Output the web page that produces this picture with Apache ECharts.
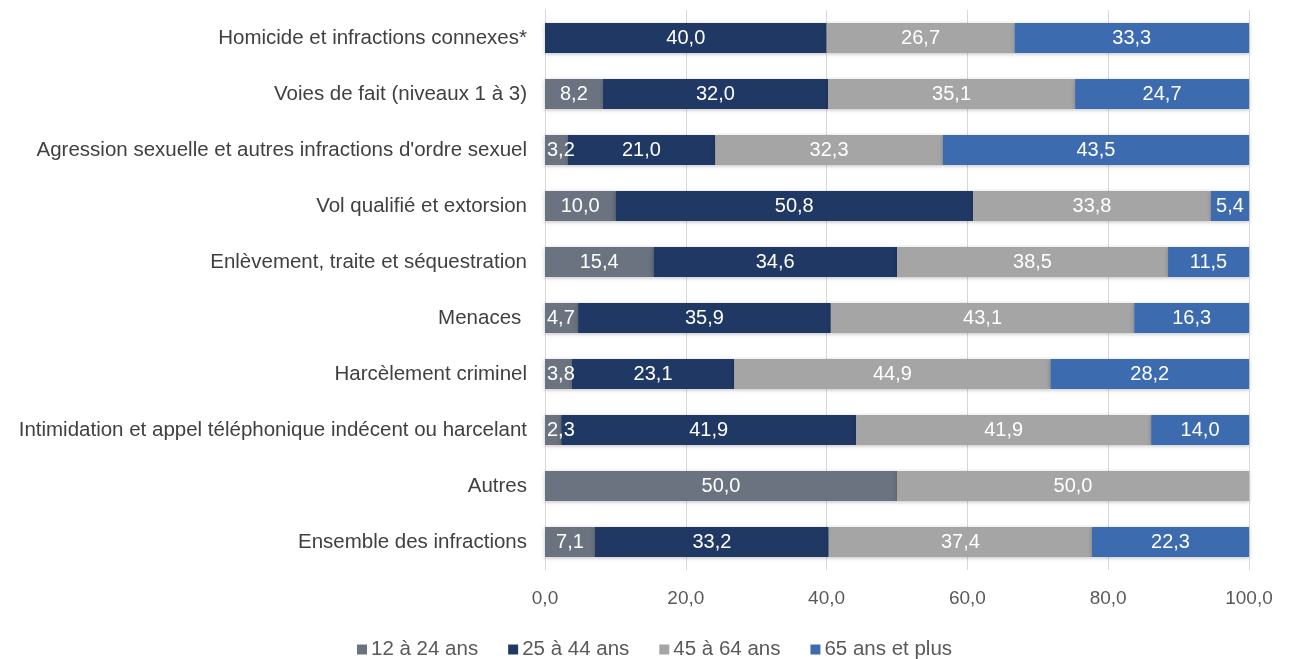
<!DOCTYPE html>
<html><head><meta charset="utf-8">
<script src="https://cdn.jsdelivr.net/npm/echarts@6/dist/echarts.min.js"></script>
<style>html,body{margin:0;padding:0;background:#fff}#c{width:1289px;height:659px}</style>
</head><body><div id="c"></div>
<script>
const categories = [
  "Homicide et infractions connexes*",
  "Voies de fait (niveaux 1 à 3)",
  "Agression sexuelle et autres infractions d'ordre sexuel",
  "Vol qualifié et extorsion",
  "Enlèvement, traite et séquestration",
  "Menaces ",
  "Harcèlement criminel",
  "Intimidation et appel téléphonique indécent ou harcelant",
  "Autres",
  "Ensemble des infractions"
];
const seriesNames = ["12 à 24 ans", "25 à 44 ans", "45 à 64 ans", "65 ans et plus"];
const age12_24 = [0, 8.2, 3.2, 10.0, 15.4, 4.7, 3.8, 2.3, 50.0, 7.1];
const age25_44 = [40.0, 32.0, 21.0, 50.8, 34.6, 35.9, 23.1, 41.9, 0, 33.2];
const age45_64 = [26.7, 35.1, 32.3, 33.8, 38.5, 43.1, 44.9, 41.9, 50.0, 37.4];
const age65plus = [33.3, 24.7, 43.5, 5.4, 11.5, 16.3, 28.2, 14.0, 0, 22.3];
const xTicks = [0, 20, 40, 60, 80, 100];
const colors = ["#6B7380", "#203864", "#A5A5A5", "#3D6BB0"];
const fmt = v => v.toFixed(1).replace('.', ',');
const allData = [age12_24, age25_44, age45_64, age65plus];

const chart = echarts.init(document.getElementById('c'));
chart.setOption({
  animation: false,
  textStyle: { fontFamily: '"Liberation Sans", Arial, sans-serif' },
  grid: { left: 545, right: 40, top: 10, bottom: 89, containLabel: false },
  legend: {
    top: 634, left: 352, itemWidth: 10, itemHeight: 10, itemGap: 30,
    icon: 'rect',
    textStyle: { fontSize: 20.5, color: '#595959', padding: [0, 0, 0, -1] },
    data: seriesNames
  },
  xAxis: {
    type: 'value', min: xTicks[0], max: xTicks[xTicks.length - 1], interval: 20,
    axisLabel: { formatter: v => fmt(v), fontSize: 19, color: '#595959', margin: 19 },
    splitLine: { lineStyle: { color: '#D9D9D9', width: 1 } },
    axisLine: { show: false }, axisTick: { show: false }
  },
  yAxis: {
    type: 'category', data: categories, inverse: true,
    axisLabel: { fontSize: 20.5, color: '#404040', margin: 18 },
    axisLine: { show: true, lineStyle: { color: '#D9D9D9' } },
    axisTick: { show: false }
  },
  series: seriesNames.map((name, i) => ({
    name, type: 'bar', stack: 'total', barWidth: 30,
    itemStyle: { color: colors[i], shadowColor: 'rgba(0,0,0,0.25)', shadowBlur: 4, shadowOffsetY: 1 },
    label: {
      show: true, position: 'inside', color: '#fff', fontSize: 20,
      formatter: p => p.value > 0 ? fmt(p.value) : ''
    },
    data: allData[i].map(v => (i === 0 && v > 0 && v < 5)
      ? { value: v, label: { position: 'insideLeft', distance: 2 } }
      : v)
  }))
});
</script></body></html>
